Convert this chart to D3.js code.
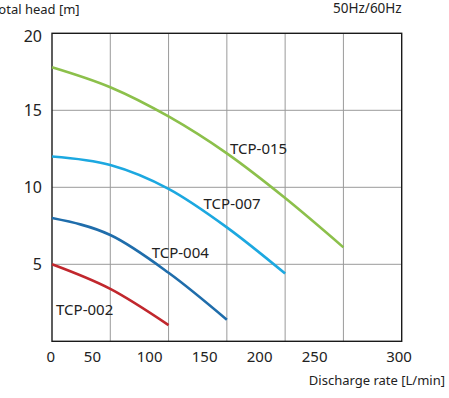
<!DOCTYPE html>
<html>
<head>
<meta charset="utf-8">
<script src="https://cdn.jsdelivr.net/npm/d3@7"></script>
<style>
  body { margin: 0; background: #fff; }
  svg { display: block; font-family: "Noto Sans", "Open Sans", sans-serif; }
</style>
</head>
<body>
<svg id="chart"></svg>
<script>
// pump curves (L/min vs m)
var flowRates = [0, 50, 100, 150, 200, 250];
var headTCP002 = [5.0, 3.4, 1.05];
var headTCP004 = [8.0, 6.9, 4.45, 1.4];
var headTCP007 = [12.0, 11.45, 9.9, 7.4, 4.4];
var headTCP015 = [17.8, 16.5, 14.6, 12.2, 9.3, 6.1];
var modelNames = ["TCP-002", "TCP-004", "TCP-007", "TCP-015"];
var xTicks = [0, 50, 100, 150, 200, 250, 300];
var yTicks = [5, 10, 15, 20];

var W = 449, H = 398;
var plotLeft = 52, plotRight = 401.7, plotTop = 33.3, plotBottom = 341.3;

var colors = {"TCP-002": "#c1272d", "TCP-004": "#1f6dab", "TCP-007": "#1ca8e0", "TCP-015": "#8cc04b"};
// where each name sits, in data units (x, y of baseline start)
var labelAt = {"TCP-002": [3.5, 1.7], "TCP-004": [85.5, 5.43], "TCP-007": [130, 8.6], "TCP-015": [152.7, 12.15]};
// the tick labels in the original are shifted off their grid lines
var tickNudge = [-1.3, -17.9, -18.9, -22.2, -25.5, -28.8, -2.7];

var svg = d3.select("#chart").attr("width", W).attr("height", H);

var x = d3.scaleLinear().domain([0, 300]).range([plotLeft, plotRight]);
var y = d3.scaleLinear().domain([0, 20]).range([plotBottom, plotTop]);

// grid
svg.append("g").selectAll("line")
    .data(xTicks.slice(1, -1))
    .enter().append("line")
    .attr("x1", function (d) { return x(d); })
    .attr("x2", function (d) { return x(d); })
    .attr("y1", y(0)).attr("y2", y(20))
    .attr("stroke", "#9a9a9a").attr("stroke-width", 1);

svg.append("g").selectAll("line")
    .data(yTicks.slice(0, -1))
    .enter().append("line")
    .attr("x1", x(0)).attr("x2", x(300))
    .attr("y1", function (d) { return y(d); })
    .attr("y2", function (d) { return y(d); })
    .attr("stroke", "#9a9a9a").attr("stroke-width", 1);

// frame
svg.append("rect")
    .attr("x", x(0)).attr("y", y(20))
    .attr("width", x(300) - x(0)).attr("height", y(0) - y(20))
    .attr("fill", "none").attr("stroke", "#1a1a1a").attr("stroke-width", 1.4);

// tick labels
svg.append("g").selectAll("text")
    .data(xTicks)
    .enter().append("text")
    .attr("x", function (d, i) { return x(d) + tickNudge[i]; })
    .attr("y", 362)
    .attr("text-anchor", "middle")
    .attr("font-size", 15)
    .attr("fill", "#222")
    .text(function (d) { return d; });

svg.append("g").selectAll("text")
    .data(yTicks)
    .enter().append("text")
    .attr("x", 42)
    .attr("y", function (d) { return y(d) + (d === 20 ? 9 : 6); })
    .attr("text-anchor", "end")
    .attr("font-size", 16)
    .attr("fill", "#222")
    .text(function (d) { return d; });

// axis titles
svg.append("text")
    .attr("x", -8).attr("y", 14)
    .attr("font-size", 13)
    .attr("fill", "#222")
    .text("Total head [m]");

svg.append("text")
    .attr("x", plotRight).attr("y", 13)
    .attr("text-anchor", "end")
    .attr("font-size", 13.5)
    .attr("fill", "#222")
    .text("50Hz/60Hz");

svg.append("text")
    .attr("x", 445).attr("y", 385)
    .attr("text-anchor", "end")
    .attr("font-size", 13)
    .attr("fill", "#222")
    .text("Discharge rate [L/min]");

// curves
var series = [headTCP002, headTCP004, headTCP007, headTCP015];
var line = d3.line()
    .x(function (d) { return x(d[0]); })
    .y(function (d) { return y(d[1]); })
    .curve(d3.curveMonotoneX);

series.forEach(function (heads, i) {
    var name = modelNames[i];
    var pts = heads.map(function (h, j) { return [flowRates[j], h]; });
    svg.append("path")
        .datum(pts)
        .attr("d", line)
        .attr("fill", "none")
        .attr("stroke", colors[name])
        .attr("stroke-width", 2.6);

    svg.append("text")
        .attr("x", x(labelAt[name][0]))
        .attr("y", y(labelAt[name][1]))
        .attr("font-size", 15)
        .attr("fill", "#222")
        .text(name);
});
</script>
</body>
</html>
